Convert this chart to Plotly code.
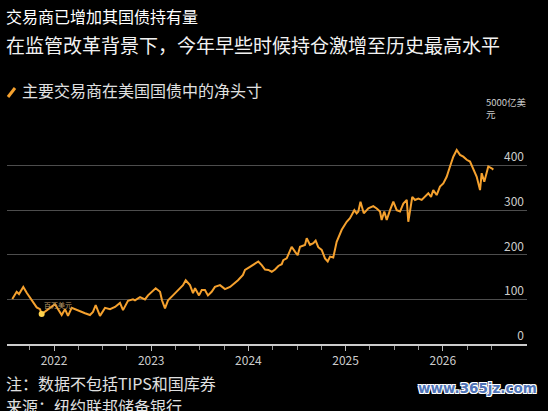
import plotly.graph_objects as go

# ---- data (decimal year, value in 十亿美元) ----
t = [2021.571, 2021.616, 2021.640, 2021.684, 2021.719, 2021.771, 2021.822, 2021.856, 2021.873,
     2022.010, 2022.079, 2022.113, 2022.144, 2022.182, 2022.234, 2022.285, 2022.319, 2022.370,
     2022.401, 2022.429, 2022.473, 2022.525, 2022.576, 2022.628, 2022.679, 2022.710, 2022.761,
     2022.813, 2022.833, 2022.885, 2022.936, 2022.967, 2023.005, 2023.046, 2023.091, 2023.111,
     2023.142, 2023.173, 2023.224, 2023.276, 2023.327, 2023.355, 2023.399, 2023.430, 2023.451,
     2023.492, 2023.520, 2023.553, 2023.584, 2023.622, 2023.656, 2023.708, 2023.759, 2023.811,
     2023.862, 2023.893, 2023.944, 2023.965, 2024.016, 2024.068, 2024.102, 2024.137, 2024.171,
     2024.205, 2024.240, 2024.274, 2024.308, 2024.343, 2024.359, 2024.394, 2024.445, 2024.479,
     2024.507, 2024.531, 2024.582, 2024.600, 2024.634, 2024.668, 2024.692, 2024.719, 2024.754,
     2024.788, 2024.816, 2024.840, 2024.873, 2024.908, 2024.960, 2025.011, 2025.045, 2025.090,
     2025.114, 2025.131, 2025.153, 2025.187, 2025.234, 2025.285, 2025.320, 2025.354, 2025.371,
     2025.398, 2025.423, 2025.457, 2025.491, 2025.526, 2025.560, 2025.594, 2025.629, 2025.645,
     2025.663, 2025.686, 2025.714, 2025.748, 2025.783, 2025.817, 2025.851, 2025.879, 2025.902,
     2025.937, 2025.971, 2026.005, 2026.040, 2026.074, 2026.108, 2026.143, 2026.177, 2026.211,
     2026.246, 2026.280, 2026.314, 2026.349, 2026.383, 2026.400, 2026.427, 2026.468, 2026.503,
     2026.520]
v = [101, 117, 112, 128, 115, 98, 82, 78, 67,
     89, 65, 78, 63, 81, 76, 72, 69, 65,
     72, 87, 63, 81, 78, 83, 92, 76, 97,
     100, 98, 105, 100, 109, 117, 125, 117, 98,
     80, 98, 109, 121, 132, 143, 132, 114, 125,
     109, 121, 121, 109, 117, 128, 132, 123, 128,
     137, 143, 155, 166, 173, 181, 185, 177, 167,
     166, 162, 167, 175, 179, 188, 192, 218, 207,
     199, 218, 222, 237, 222, 226, 232, 217, 211,
     192, 185, 196, 194, 229, 256, 274, 282, 300,
     293, 297, 319, 293, 304, 309, 304, 297, 278,
     297, 278, 300, 319, 300, 297, 315, 323, 274,
     300, 330, 323, 326, 323, 330, 338, 330, 345,
     334, 353, 360, 375, 398, 420, 435, 424, 420,
     413, 409, 394, 375, 345, 383, 364, 398, 394,
     391]
year_ticks = [2022, 2023, 2024, 2025, 2026]
year_labels = ["2022", "2023", "2024", "2025", "2026"]
y_ticks = [0, 100, 200, 300, 400, 500]
y_labels = ["0", "100", "200", "300", "400", ""]
marked_index = 8

CJK = "Noto Sans CJK SC"
ORANGE = "#F5A12E"

# pixel layout helpers
L, R, T, B = 7, 21, 121, 67
W, H = 548, 411
PW, PH = W - L - R, H - T - B
def px(x):
    return (x - L) / PW
def py(y):
    return (H - B - y) / PH

fig = go.Figure()
fig.add_trace(go.Scatter(x=t, y=v, mode="lines",
                         line=dict(color=ORANGE, width=2), hoverinfo="skip",
                         showlegend=False))
fig.add_trace(go.Scatter(x=[t[marked_index]], y=[v[marked_index]], mode="markers",
                         marker=dict(color="#FFD34D", size=6), hoverinfo="skip",
                         showlegend=False))

ann = []
ann.append(dict(text="交易商已增加其国债持有量", x=px(3.5), y=py(15.7), xref="paper", yref="paper",
                xanchor="left", yanchor="middle", showarrow=False,
                font=dict(family=CJK, size=16, color="#ffffff")))
ann.append(dict(text="在监管改革背景下，今年早些时候持仓激增至历史最高水平", x=px(3.5), y=py(44.7),
                xref="paper", yref="paper", xanchor="left", yanchor="middle", showarrow=False,
                font=dict(family=CJK, size=19, color="#f2f2f2")))
ann.append(dict(text="主要交易商在美国国债中的净头寸", x=px(20), y=py(90), xref="paper", yref="paper",
                xanchor="left", yanchor="middle", showarrow=False,
                font=dict(family=CJK, size=16, color="#e0e0e0")))
ann.append(dict(text="5000亿美<br>元", x=px(484), y=py(108.5), xref="paper", yref="paper",
                xanchor="left", yanchor="middle", align="left", showarrow=False,
                font=dict(family=CJK, size=9.5, color="#cccccc")))
ann.append(dict(text="百万美元", x=t[marked_index], y=v[marked_index], xref="x", yref="y",
                xanchor="left", yanchor="middle", yshift=9, showarrow=False,
                font=dict(family=CJK, size=7, color="#b89a6a")))
ann.append(dict(text="注：数据不包括TIPS和国库券", x=px(3.5), y=py(382.5), xref="paper", yref="paper",
                xanchor="left", yanchor="middle", showarrow=False,
                font=dict(family=CJK, size=16, color="#e0e0e0")))
ann.append(dict(text="来源：纽约联邦储备银行", x=px(3.5), y=py(406), xref="paper", yref="paper",
                xanchor="left", yanchor="middle", showarrow=False,
                font=dict(family=CJK, size=16, color="#e0e0e0")))
ann.append(dict(text="<b>www.365jz.com</b>", x=px(539), y=py(388), xref="paper", yref="paper",
                xanchor="right", yanchor="middle", showarrow=False,
                font=dict(family="DejaVu Sans", size=13.5, color="#4f74b8",
                          shadow="1px 1px 0 #ffffff, -1px -1px 0 #ffffff, 1px -1px 0 #ffffff, -1px 1px 0 #ffffff")))

shapes = [dict(type="line", xref="paper", yref="paper",
               x0=px(8), y0=py(97), x1=px(15), y1=py(88),
               line=dict(color=ORANGE, width=3))]

fig.update_layout(
    width=W, height=H, autosize=False,
    margin=dict(l=L, r=R, t=T, b=B, pad=0),
    paper_bgcolor="#000000", plot_bgcolor="#000000",
    annotations=ann, shapes=shapes, showlegend=False,
    xaxis=dict(range=[2022 + (L - 54) / 97.2, 2022 + (W - R - 54) / 97.2],
               tickvals=year_ticks, ticktext=year_labels,
               ticks="outside", ticklen=5, tickcolor="#bbbbbb", tickwidth=1,
               showgrid=False, zeroline=False,
               showline=True, linecolor="#cccccc", linewidth=1.5,
               tickfont=dict(family=CJK, size=12, color="#cccccc"),
               minor=dict(tick0=2022, dtick=0.25, ticks="outside", ticklen=4,
                          tickcolor="#999999", tickwidth=1, showgrid=False)),
    yaxis=dict(range=[0, 500], side="right", tickvals=y_ticks, ticktext=y_labels,
               ticklabelposition="inside top", ticks="",
               showgrid=True, gridcolor="#4d4d4d", gridwidth=1,
               zeroline=False, showline=False,
               tickfont=dict(family=CJK, size=12, color="#cccccc")),
)

fig.write_html("out.html", config={"displayModeBar": False},
               post_script="document.body.style.margin='0';document.body.style.background='#000';")
